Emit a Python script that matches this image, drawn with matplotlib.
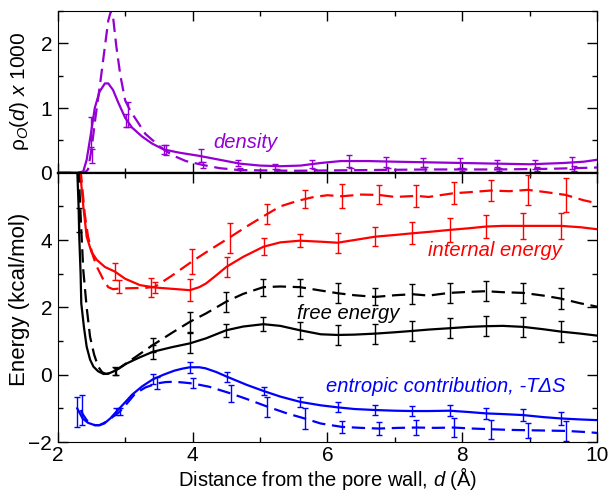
import matplotlib
matplotlib.use("Agg")
import matplotlib.pyplot as plt
from matplotlib.ticker import MultipleLocator

plt.rcParams['font.family'] = ['Liberation Sans', 'DejaVu Sans']
plt.rcParams['mathtext.fontset'] = 'custom'
plt.rcParams['mathtext.rm'] = 'Liberation Sans'
plt.rcParams['mathtext.it'] = 'Liberation Sans:italic'

PURPLE = '#9400d3'
RED = '#ff0000'
BLUE = '#0000ff'
BLACK = '#000000'

# ---- density (top panel) ----
dens_x = [2.0, 2.3, 2.38, 2.43, 2.5, 2.55, 2.62, 2.7, 2.75, 2.82, 2.9, 3.0, 3.1, 3.25, 3.4,
          3.57, 3.8, 4.1, 4.4, 4.7, 5.0, 5.3, 5.6, 5.9, 6.2, 6.6, 7.0, 7.5, 8.0, 8.5, 9.0,
          9.5, 9.8, 10.0]
dens_y = [0, 0, 0.02, 0.2, 0.65, 1.0, 1.25, 1.38, 1.38, 1.28, 1.08, 0.85, 0.7, 0.56, 0.45,
          0.36, 0.31, 0.26, 0.2, 0.14, 0.11, 0.1, 0.11, 0.15, 0.18, 0.18, 0.17, 0.16, 0.15,
          0.14, 0.13, 0.15, 0.17, 0.2]
dens_d_x = [2.0, 2.4, 2.45, 2.5, 2.56, 2.63, 2.7, 2.75, 2.79, 2.82, 2.87, 2.93, 3.0, 3.08,
            3.17, 3.3, 3.52, 3.7, 3.9, 4.15, 4.4, 4.7, 5.5, 6.5, 7.5, 8.5, 9.3, 10.0]
dens_d_y = [0, 0, 0.05, 0.35, 0.85, 1.38, 1.95, 2.35, 2.5, 2.42, 1.95, 1.5, 1.12, 0.95,
            0.81, 0.6, 0.4, 0.27, 0.18, 0.12, 0.07, 0.04, 0.03, 0.04, 0.05, 0.05, 0.06, 0.08]
dens_err_x = [2.5, 3.02, 3.57, 4.12, 4.67, 5.22, 5.77, 6.32, 6.87, 7.42, 7.97, 8.52, 9.07, 9.62]
dens_err_y = [0.63, 0.8, 0.36, 0.26, 0.15, 0.1, 0.13, 0.18, 0.17, 0.16, 0.15, 0.14, 0.13, 0.15]
dens_err = [0.23, 0.1, 0.07, 0.1, 0.05, 0.04, 0.06, 0.09, 0.08, 0.07, 0.07, 0.05, 0.07, 0.1]
dens_d_err_x = [2.51, 3.05, 3.6, 4.15, 4.7, 5.25, 5.8, 6.35, 6.9, 7.45, 8.0, 8.55, 9.1, 9.65]
dens_d_err_y = [0.26, 0.9, 0.35, 0.12, 0.04, 0.03, 0.03, 0.04, 0.04, 0.05, 0.05, 0.05, 0.06, 0.07]
dens_d_err = [0.11, 0.2, 0.08, 0.05, 0.03, 0.02, 0.03, 0.04, 0.04, 0.04, 0.03, 0.03, 0.03, 0.04]

# ---- internal energy (red) ----
int_x = [2.33, 2.38, 2.43, 2.5, 2.58, 2.7, 2.85, 3.0, 3.22, 3.44, 3.7, 3.96, 4.1, 4.2, 4.35,
         4.5, 4.75, 5.05, 5.3, 5.59, 5.9, 6.15, 6.4, 6.71, 7.0, 7.26, 7.55, 7.81, 8.1, 8.35,
         8.6, 8.9, 9.2, 9.46, 9.75, 10.0]
int_y = [6.1, 5.0, 4.1, 3.65, 3.41, 3.2, 3.06, 2.85, 2.66, 2.59, 2.55, 2.51, 2.6, 2.71, 2.95,
         3.2, 3.5, 3.8, 3.93, 3.98, 3.95, 3.92, 4.0, 4.1, 4.15, 4.2, 4.25, 4.3, 4.35, 4.4,
         4.42, 4.42, 4.42, 4.42, 4.38, 4.32]
int_d_x = [2.34, 2.4, 2.45, 2.52, 2.58, 2.68, 2.75, 2.82, 2.92, 3.1, 3.3, 3.44, 3.7, 3.99,
           4.25, 4.53, 4.8, 5.08, 5.3, 5.57, 5.8, 6.0, 6.22, 6.5, 6.76, 7.0, 7.32, 7.5, 7.87,
           8.1, 8.42, 8.7, 8.97, 9.25, 9.53, 9.8, 10.0]
int_d_y = [6.1, 4.8, 4.1, 3.55, 3.21, 2.81, 2.6, 2.54, 2.56, 2.57, 2.58, 2.61, 2.95, 3.36,
           3.7, 4.05, 4.4, 4.74, 5.0, 5.17, 5.28, 5.33, 5.3, 5.35, 5.34, 5.28, 5.31, 5.28, 5.39,
           5.42, 5.47, 5.45, 5.49, 5.42, 5.34, 5.18, 5.09]
int_err_x = [2.85, 3.44, 3.96, 4.51, 5.06, 5.6, 6.15, 6.71, 7.26, 7.81, 8.35, 8.9, 9.46]
int_err_y = [3.06, 2.59, 2.51, 3.2, 3.8, 3.98, 3.92, 4.1, 4.2, 4.3, 4.4, 4.42, 4.42]
int_err = [0.25, 0.15, 0.33, 0.3, 0.25, 0.2, 0.3, 0.28, 0.33, 0.35, 0.35, 0.38, 0.38]
int_d_err_x = [2.91, 3.38, 3.99, 4.55, 5.11, 5.66, 6.22, 6.76, 7.32, 7.87, 8.42, 8.97, 9.53]
int_d_err_y = [2.62, 2.6, 3.36, 4.05, 4.78, 5.22, 5.3, 5.34, 5.31, 5.39, 5.47, 5.49, 5.34]
int_d_err = [0.2, 0.28, 0.38, 0.45, 0.3, 0.28, 0.35, 0.28, 0.33, 0.33, 0.3, 0.45, 0.5]

# ---- free energy (black) ----
free_x = [2.29, 2.31, 2.32, 2.34, 2.35, 2.39, 2.43, 2.48, 2.53, 2.6, 2.68, 2.75, 2.82, 2.92,
          3.02, 3.2, 3.41, 3.7, 3.96, 4.2, 4.5, 4.75, 5.05, 5.3, 5.59, 5.9, 6.15, 6.4, 6.71,
          7.0, 7.26, 7.5, 7.81, 8.1, 8.35, 8.6, 8.9, 9.2, 9.46, 9.75, 10.0]
free_y = [6.1, 5.0, 4.1, 3.0, 2.12, 1.4, 0.83, 0.45, 0.24, 0.1, 0.02, 0.03, 0.09, 0.2,
          0.33, 0.5, 0.68, 0.82, 0.93, 1.08, 1.32, 1.43, 1.5, 1.45, 1.32, 1.2, 1.18, 1.19,
          1.22, 1.26, 1.3, 1.34, 1.38, 1.42, 1.44, 1.45, 1.42, 1.35, 1.28, 1.22, 1.16]
free_d_x = [2.31, 2.35, 2.38, 2.43, 2.48, 2.54, 2.6, 2.66, 2.72, 2.8, 2.87, 3.1, 3.41, 3.7,
            3.96, 4.2, 4.5, 4.75, 5.05, 5.3, 5.59, 5.9, 6.15, 6.4, 6.71, 7.0, 7.26, 7.5, 7.81,
            8.1, 8.35, 8.6, 8.9, 9.2, 9.46, 9.75, 10.0]
free_d_y = [6.1, 4.3, 3.1, 2.0, 1.13, 0.6, 0.24, 0.07, 0.02, 0.06, 0.14, 0.45, 0.88, 1.25,
            1.57, 1.82, 2.17, 2.4, 2.6, 2.62, 2.6, 2.5, 2.42, 2.36, 2.31, 2.36, 2.39, 2.35,
            2.43, 2.46, 2.48, 2.45, 2.43, 2.35, 2.26, 2.12, 2.02]
free_err_x = [2.31, 2.85, 3.41, 3.96, 4.5, 5.05, 5.6, 6.15, 6.71, 7.26, 7.81, 8.35, 8.9, 9.46]
free_err_y = [4.6, 0.1, 0.68, 0.93, 1.32, 1.5, 1.32, 1.18, 1.22, 1.3, 1.38, 1.44, 1.42, 1.28]
free_err = [0.35, 0.12, 0.2, 0.3, 0.2, 0.2, 0.25, 0.3, 0.3, 0.3, 0.3, 0.3, 0.3, 0.3]
free_d_err_x = [2.87, 3.41, 3.96, 4.5, 5.05, 5.6, 6.15, 6.71, 7.26, 7.81, 8.35, 8.9, 9.46]
free_d_err_y = [0.1, 0.88, 1.57, 2.17, 2.6, 2.6, 2.42, 2.31, 2.39, 2.43, 2.48, 2.43, 2.26]
free_d_err = [0.1, 0.2, 0.3, 0.3, 0.25, 0.25, 0.3, 0.25, 0.3, 0.3, 0.3, 0.3, 0.3]

# ---- entropic contribution (blue) ----
ent_x = [2.29, 2.33, 2.37, 2.45, 2.55, 2.62, 2.69, 2.78, 2.87, 3.0, 3.1, 3.25, 3.41, 3.57,
         3.73, 3.85, 3.96, 4.1, 4.19, 4.35, 4.51, 4.8, 5.06, 5.3, 5.6, 5.9, 6.15, 6.4, 6.71,
         7.0, 7.26, 7.5, 7.81, 8.1, 8.35, 8.6, 8.9, 9.2, 9.46, 9.75, 10.0]
ent_y = [-1.0, -1.15, -1.3, -1.43, -1.5, -1.5, -1.45, -1.3, -1.1, -0.82, -0.6, -0.35, -0.14,
         0.0, 0.12, 0.18, 0.22, 0.22, 0.19, 0.08, -0.06, -0.3, -0.49, -0.65, -0.81, -0.91,
         -0.97, -1.02, -1.05, -1.07, -1.08, -1.08, -1.07, -1.11, -1.15, -1.17, -1.2, -1.26,
         -1.3, -1.33, -1.35]
ent_d_x = [2.34, 2.38, 2.43, 2.5, 2.55, 2.62, 2.7, 2.8, 2.92, 3.05, 3.15, 3.3, 3.47, 3.6,
           3.73, 3.85, 4.0, 4.25, 4.57, 4.8, 5.11, 5.4, 5.66, 5.9, 6.21, 6.5, 6.76, 7.05, 7.32,
           7.6, 7.87, 8.15, 8.42, 8.7, 8.97, 9.25, 9.53, 9.8, 10.0]
ent_d_y = [-1.05, -1.2, -1.35, -1.45, -1.5, -1.5, -1.42, -1.28, -1.1, -0.8, -0.56, -0.38,
           -0.26, -0.22, -0.21, -0.23, -0.26, -0.36, -0.56, -0.72, -0.95, -1.15, -1.3, -1.45,
           -1.55, -1.58, -1.6, -1.58, -1.57, -1.58, -1.57, -1.6, -1.62, -1.64, -1.65, -1.66,
           -1.67, -1.7, -1.73]
ent_err_x = [2.29, 2.87, 3.41, 3.96, 4.51, 5.06, 5.6, 6.15, 6.71, 7.26, 7.81, 8.35, 8.9, 9.46]
ent_err_y = [-1.1, -1.1, -0.14, 0.22, -0.06, -0.49, -0.81, -0.97, -1.05, -1.08, -1.07, -1.15,
             -1.2, -1.3]
ent_err = [0.45, 0.1, 0.15, 0.17, 0.15, 0.12, 0.15, 0.15, 0.15, 0.15, 0.17, 0.17, 0.18, 0.2]
ent_d_err_x = [2.36, 2.92, 3.47, 4.0, 4.57, 5.11, 5.66, 6.22, 6.76, 7.32, 7.87, 8.42, 8.97, 9.53]
ent_d_err_y = [-1.05, -1.1, -0.26, -0.26, -0.56, -0.95, -1.3, -1.55, -1.6, -1.57, -1.57,
               -1.62, -1.65, -1.67]
ent_d_err = [0.45, 0.1, 0.18, 0.15, 0.25, 0.3, 0.3, 0.18, 0.2, 0.22, 0.27, 0.28, 0.22, 0.3]

LW = 1.6
DASH = (6, 3)


def draw(ax, x, y, ex, ey, ee, color, dashed):
    kw = dict(color=color, lw=LW)
    if dashed:
        kw['dashes'] = DASH
    ax.plot(x, y, **kw)
    ax.errorbar(ex, ey, yerr=ee, fmt='none', ecolor=color, elinewidth=1.0,
                capsize=2.2, capthick=1.0)


def style(ax):
    ax.tick_params(which='both', direction='in', top=True, right=True,
                   labelsize=15, pad=4, width=1)
    ax.tick_params(axis='x', pad=3)
    ax.tick_params(which='major', length=7)
    ax.tick_params(which='minor', length=3.5)
    ax.xaxis.set_major_locator(MultipleLocator(2))
    ax.xaxis.set_minor_locator(MultipleLocator(1))
    ax.set_xlim(2, 10)


fig = plt.figure(figsize=(6.09, 4.92), dpi=100)
ax1 = fig.add_axes([0.0947, 0.649, 0.886, 0.3287])
ax2 = fig.add_axes([0.0947, 0.1016, 0.886, 0.5474])

# top panel
draw(ax1, dens_x, dens_y, dens_err_x, dens_err_y, dens_err, PURPLE, False)
draw(ax1, dens_d_x, dens_d_y, dens_d_err_x, dens_d_err_y, dens_d_err, PURPLE, True)
style(ax1)
ax1.set_ylim(0, 2.5)
ax1.yaxis.set_major_locator(MultipleLocator(1))
ax1.yaxis.set_minor_locator(MultipleLocator(0.5))
ax1.tick_params(labelbottom=False)
ax1.spines['bottom'].set_linewidth(1.6)
ax1.set_ylabel(r'$\mathrm{\rho}_{O}\mathit{(d)\ x\ 1000}$', fontsize=15)
ax1.yaxis.set_label_coords(-0.05, 0.5)
ax1.text(4.78, 0.46, 'density', color=PURPLE, fontsize=14.5, style='italic',
         ha='center', va='center')

# bottom panel
draw(ax2, int_x, int_y, int_err_x, int_err_y, int_err, RED, False)
draw(ax2, int_d_x, int_d_y, int_d_err_x, int_d_err_y, int_d_err, RED, True)
draw(ax2, free_x, free_y, free_err_x, free_err_y, free_err, BLACK, False)
draw(ax2, free_d_x, free_d_y, free_d_err_x, free_d_err_y, free_d_err, BLACK, True)
draw(ax2, ent_x, ent_y, ent_err_x, ent_err_y, ent_err, BLUE, False)
draw(ax2, ent_d_x, ent_d_y, ent_d_err_x, ent_d_err_y, ent_d_err, BLUE, True)
style(ax2)
ax2.set_ylim(-2, 6)
ax2.set_yticks([-2, 0, 2, 4])
ax2.set_yticks([-1, 1, 3, 5], minor=True)
ax2.spines['top'].set_linewidth(1.6)
ax2.set_ylabel('Energy (kcal/mol)', fontsize=16)
ax2.yaxis.set_label_coords(-0.052, 0.53)
ax2.set_xlabel('Distance from the pore wall, $d$ (Å)', fontsize=14.5, labelpad=0)

ax2.text(8.49, 3.7, 'internal energy', color=RED, fontsize=14.5, style='italic',
         ha='center', va='center')
ax2.text(6.31, 1.82, 'free energy', color=BLACK, fontsize=14.5, style='italic',
         ha='center', va='center')
ax2.text(7.76, -0.36, 'entropic contribution, -TΔS', color=BLUE, fontsize=14.5,
         style='italic', ha='center', va='center')

fig.savefig('out.png', dpi=100)
